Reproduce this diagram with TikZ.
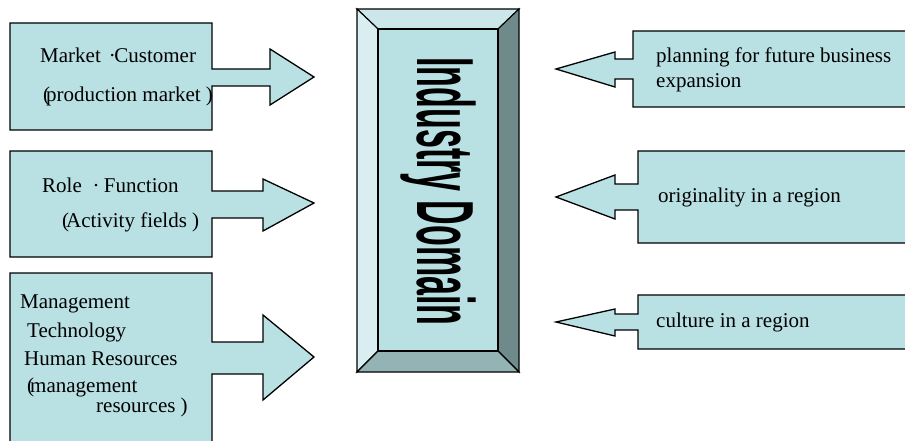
\documentclass[tikz,border=0pt]{standalone}
\usepackage{fontspec}
\setmainfont{Liberation Serif}
\newfontfamily\titlefont[BoldFont={Liberation Sans Bold}]{Liberation Sans}
\begin{document}
\begin{tikzpicture}[x=1pt,y=-1pt,
  callout/.style={draw=black,line width=1.3pt,fill=boxfill,line join=miter},
  label/.style={anchor=base west,inner sep=0pt,font=\fontsize{21}{25}\selectfont,align=left},
  bevel/.style={draw=black,line width=1.1pt,line join=miter}]
\definecolor{boxfill}{HTML}{B9E0E3}
\definecolor{beveltop}{HTML}{CCE7EA}
\definecolor{bevelleft}{HTML}{D8EEF0}
\definecolor{bevelright}{HTML}{6E8A8A}
\definecolor{bevelbottom}{HTML}{94B3B5}
\useasboundingbox (0,0) rectangle (905,441);
\clip (0,0) rectangle (905,441);

% left callouts pointing right
\draw[callout] (10,23) -- (212,23) -- (212,69) -- (270,69) -- (270,49) -- (314,77)
  -- (270,105) -- (270,86) -- (212,86) -- (212,130) -- (10,130) -- cycle;
\draw[callout] (10,151) -- (212,151) -- (212,191) -- (263,191) -- (263,179) -- (314,203)
  -- (263,231) -- (263,218) -- (212,218) -- (212,257) -- (10,257) -- cycle;
\draw[callout] (10,273) -- (212,273) -- (212,342) -- (263,342) -- (263,315) -- (314,357)
  -- (263,400) -- (263,374) -- (212,374) -- (212,448) -- (10,448) -- cycle;

% right callouts pointing left
\draw[callout] (912,31) -- (633,31) -- (633,59) -- (615,59) -- (615,52) -- (556,69)
  -- (615,87) -- (615,79) -- (633,79) -- (633,107) -- (912,107) -- cycle;
\draw[callout] (912,151) -- (638,151) -- (638,184) -- (615,184) -- (615,175) -- (556,197)
  -- (615,219) -- (615,210) -- (638,210) -- (638,243) -- (912,243) -- cycle;
\draw[callout] (912,295) -- (638,295) -- (638,314) -- (615,314) -- (615,309) -- (556,322)
  -- (615,336) -- (615,330) -- (638,330) -- (638,349) -- (912,349) -- cycle;

% bevelled central block
\draw[bevel,fill=beveltop] (357,9) -- (519,9) -- (498,29) -- (378,29) -- cycle;
\draw[bevel,fill=bevelleft] (357,9) -- (378,29) -- (378,351) -- (357,372) -- cycle;
\draw[bevel,fill=bevelright] (519,9) -- (519,372) -- (498,351) -- (498,29) -- cycle;
\draw[bevel,fill=bevelbottom] (357,372) -- (519,372) -- (498,351) -- (378,351) -- cycle;
\node[bevel,fill=boxfill,rectangle,inner sep=0pt,minimum width=120pt,minimum height=322pt]
  (domain) at (438,190) {};
\node[rotate=-90,inner sep=0pt,font=\titlefont\bfseries\fontsize{81}{81}\selectfont]
  (title) at ([yshift=-1.5pt]domain.center) {\scalebox{0.42}[1]{Industry Domain}};

% left texts
\node[label] (mc1) at (40,63) {Market\hspace{8pt}·\kern-1.5pt Customer};
\node[label] (mc2) at (43,102) {(\kern-4pt production market )};
\node[label] (rf1) at (42,192) {Role\hspace{10.7pt}·\hspace{4.4pt}Function};
\node[label] (rf2) at (62,227) {(\kern-3pt Activity fields )};
\node[label] (mt1) at (20,308) {Management};
\node[label] (mt2) at (27,337) {Technology};
\node[label] (mt3) at (24,365) {Human Resources};
\node[label] (mt4) at (27,392) {(\kern-4pt management};
\node[label] (mt5) at (96,412) {resources )};

% right texts
\node[label] (pl1) at (656,63) {planning for future business};
\node[label] (pl2) at (656,88) {expansion};
\node[label] (org) at (658,202) {originality in a region};
\node[label] (cul) at (656,327) {culture in a region};
\end{tikzpicture}
\end{document}
